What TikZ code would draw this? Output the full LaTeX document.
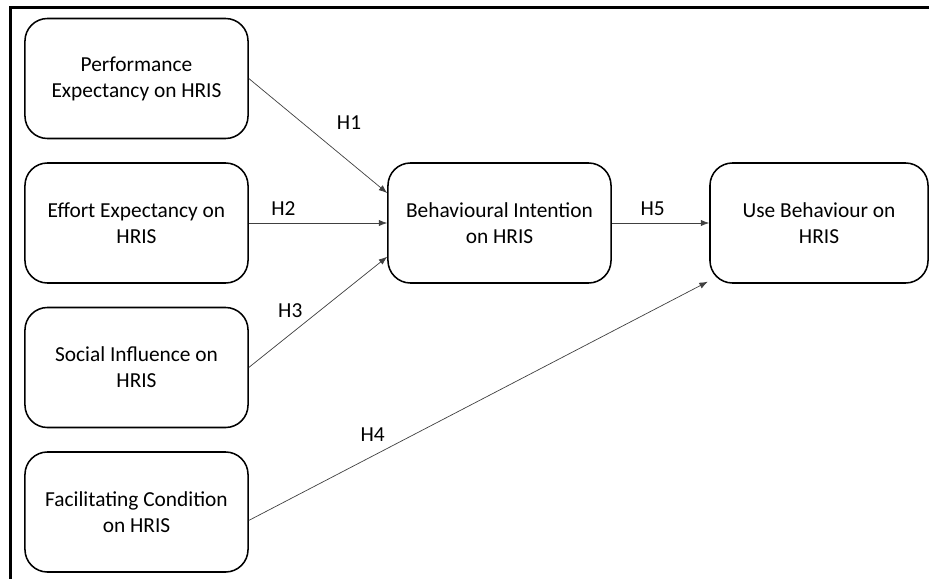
\documentclass[tikz,border=0pt]{standalone}
\usepackage{fontspec}
\setmainfont{Carlito}
\usetikzlibrary{arrows.meta}

\begin{document}
\begin{tikzpicture}[x=0.025cm,y=-0.025cm,font=\fontsize{15.2}{18.5}\selectfont]

      \useasboundingbox (0,0) rectangle (929,579);
      \draw[line width=1.6pt] (10.5,579) -- (10.5,7.5) -- (929,7.5);

      \begin{scope}[every node/.style={draw,line width=1.1pt,rounded corners=16pt,
          align=center,minimum width=5.575cm,minimum height=3cm}]
        \node (pe) at (136.5,78.5) {Performance\\Expectancy on HRIS};
        \node (ee) at (136.5,223)  {Effort Expectancy on\\HRIS};
        \node (si) at (136.5,367.5) {Social Influence on\\HRIS};
        \node (fc) at (136.5,512)  {Facilitating Condition\\on HRIS};
        \node (bi) at (499.5,223)  {Behavioural Intention\\on HRIS};
        \node[minimum width=5.45cm] (ub) at (819,223) {Use Behaviour on\\HRIS};
      \end{scope}

      \begin{scope}[every edge/.style={draw,line width=0.5pt,draw=black!75,-{Latex[length=6pt,width=4.5pt]}}]
        \path (pe.east) edge node[pos=0.55,above right=5pt] {H1} ([yshift=21.3pt]bi.west);
        \path (ee.east) edge node[pos=0.25,above=2pt] {H2} (bi.west);
        \path (si.east) edge node[pos=0.3,above=8pt] {H3} ([yshift=-24pt]bi.west);
        \path ([yshift=-6pt]fc.east) edge node[pos=0.27,above=7pt] {H4} ([shift={(-1pt,1.5pt)}]ub.south west);
        \path (bi.east) edge node[pos=0.42,above=2pt] {H5} (ub.west);
      \end{scope}

    \end{tikzpicture}
\end{document}
